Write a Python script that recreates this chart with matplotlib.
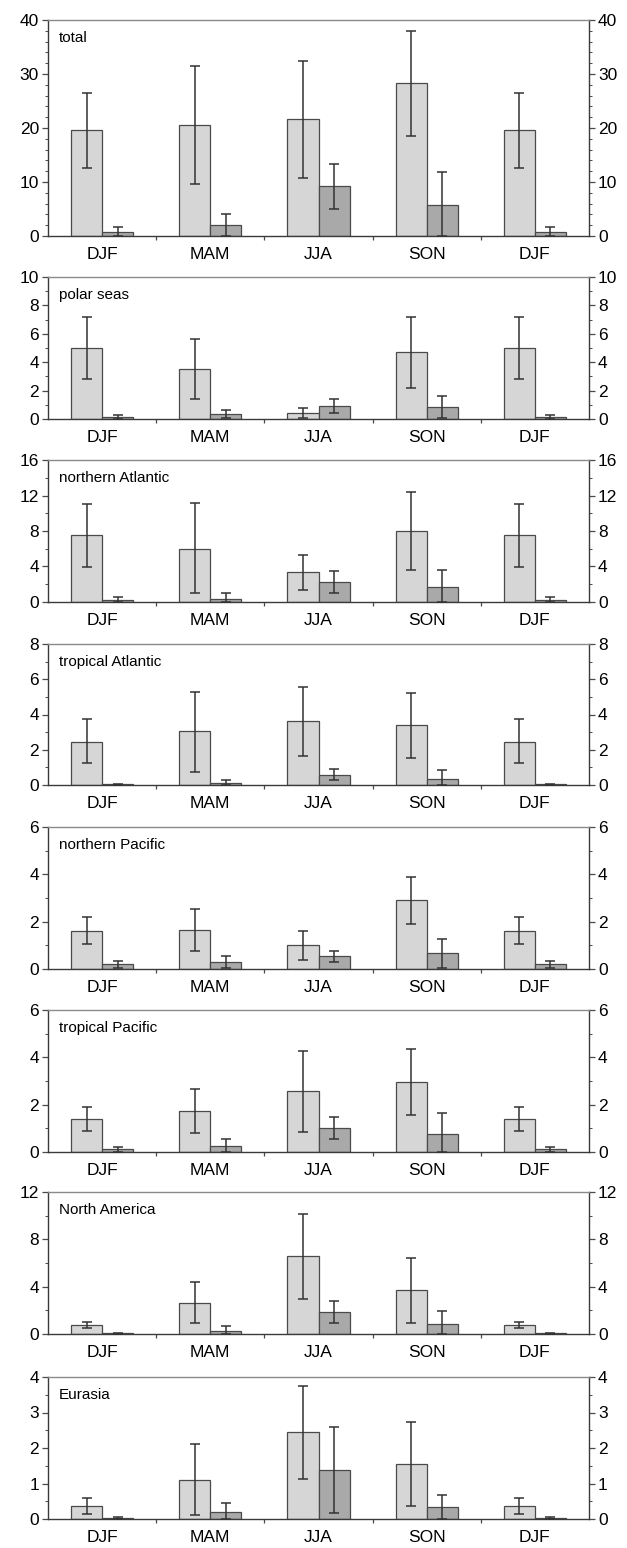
import matplotlib
matplotlib.use('Agg')
import matplotlib.pyplot as plt
from matplotlib.ticker import MultipleLocator, FixedLocator
import numpy as np

plt.rcParams['font.family'] = ['Liberation Sans', 'DejaVu Sans']

seasons = ['DJF', 'MAM', 'JJA', 'SON', 'DJF']

# light bars: mean, lower and upper end of the error bar; dark bars the same
total_l = [19.6, 20.6, 21.6, 28.3, 19.6]
total_l_lo = [12.6, 9.6, 10.7, 18.6, 12.6]
total_l_hi = [26.5, 31.5, 32.4, 37.9, 26.5]
total_d = [0.8, 2.0, 9.2, 5.7, 0.8]
total_d_lo = [0.0, 0.0, 5.0, 0.0, 0.0]
total_d_hi = [1.6, 4.0, 13.4, 11.8, 1.6]

polar_l = [5.0, 3.5, 0.45, 4.75, 5.0]
polar_l_lo = [2.8, 1.4, 0.1, 2.2, 2.8]
polar_l_hi = [7.2, 5.6, 0.75, 7.2, 7.2]
polar_d = [0.15, 0.35, 0.9, 0.85, 0.15]
polar_d_lo = [0.0, 0.05, 0.4, 0.1, 0.0]
polar_d_hi = [0.28, 0.65, 1.4, 1.6, 0.28]

natl_l = [7.5, 6.0, 3.35, 8.05, 7.5]
natl_l_lo = [3.9, 1.0, 1.4, 3.6, 3.9]
natl_l_hi = [11.0, 11.2, 5.3, 12.4, 11.0]
natl_d = [0.25, 0.38, 2.25, 1.7, 0.25]
natl_d_lo = [0.0, 0.0, 1.0, 0.0, 0.0]
natl_d_hi = [0.57, 1.0, 3.5, 3.6, 0.57]

tatl_l = [2.46, 3.05, 3.62, 3.41, 2.46]
tatl_l_lo = [1.22, 0.72, 1.62, 1.56, 1.22]
tatl_l_hi = [3.73, 5.28, 5.58, 5.2, 3.73]
tatl_d = [0.04, 0.13, 0.59, 0.32, 0.04]
tatl_d_lo = [0.0, 0.0, 0.29, 0.0, 0.0]
tatl_d_hi = [0.08, 0.28, 0.91, 0.86, 0.08]

npac_l = [1.59, 1.65, 1.01, 2.9, 1.59]
npac_l_lo = [1.04, 0.76, 0.37, 1.89, 1.04]
npac_l_hi = [2.2, 2.55, 1.62, 3.9, 2.2]
npac_d = [0.2, 0.3, 0.54, 0.68, 0.2]
npac_d_lo = [0.05, 0.05, 0.31, 0.05, 0.05]
npac_d_hi = [0.34, 0.54, 0.76, 1.26, 0.34]

tpac_l = [1.39, 1.74, 2.57, 2.94, 1.39]
tpac_l_lo = [0.88, 0.8, 0.83, 1.57, 0.88]
tpac_l_hi = [1.9, 2.67, 4.25, 4.34, 1.9]
tpac_d = [0.11, 0.25, 1.0, 0.76, 0.11]
tpac_d_lo = [0.02, 0.0, 0.55, 0.0, 0.02]
tpac_d_hi = [0.2, 0.55, 1.46, 1.63, 0.2]

nam_l = [0.73, 2.64, 6.55, 3.74, 0.73]
nam_l_lo = [0.48, 0.96, 2.98, 0.96, 0.48]
nam_l_hi = [1.01, 4.41, 10.1, 6.46, 1.01]
nam_d = [0.05, 0.28, 1.88, 0.87, 0.05]
nam_d_lo = [0.0, 0.0, 0.96, 0.0, 0.0]
nam_d_hi = [0.08, 0.65, 2.81, 1.94, 0.08]

eur_l = [0.36, 1.11, 2.44, 1.56, 0.36]
eur_l_lo = [0.14, 0.11, 1.14, 0.38, 0.14]
eur_l_hi = [0.58, 2.1, 3.76, 2.74, 0.58]
eur_d = [0.03, 0.2, 1.38, 0.33, 0.03]
eur_d_lo = [0.0, 0.0, 0.18, 0.0, 0.0]
eur_d_hi = [0.05, 0.45, 2.58, 0.69, 0.05]

panels = [
    ('total', 40, 10, 2, total_l, total_l_lo, total_l_hi, total_d, total_d_lo, total_d_hi),
    ('polar seas', 10, 2, 1, polar_l, polar_l_lo, polar_l_hi, polar_d, polar_d_lo, polar_d_hi),
    ('northern Atlantic', 16, 4, 2, natl_l, natl_l_lo, natl_l_hi, natl_d, natl_d_lo, natl_d_hi),
    ('tropical Atlantic', 8, 2, 1, tatl_l, tatl_l_lo, tatl_l_hi, tatl_d, tatl_d_lo, tatl_d_hi),
    ('northern Pacific', 6, 2, 1, npac_l, npac_l_lo, npac_l_hi, npac_d, npac_d_lo, npac_d_hi),
    ('tropical Pacific', 6, 2, 1, tpac_l, tpac_l_lo, tpac_l_hi, tpac_d, tpac_d_lo, tpac_d_hi),
    ('North America', 12, 4, 2, nam_l, nam_l_lo, nam_l_hi, nam_d, nam_d_lo, nam_d_hi),
    ('Eurasia', 4, 1, 0.5, eur_l, eur_l_lo, eur_l_hi, eur_d, eur_d_lo, eur_d_hi),
]

# panel extents in pixels (top, bottom of the plotting area)
W, H = 627, 1548
left_px, right_px = 48, 589
rows_px = [(20, 236), (277, 419), (460, 602), (644, 785), (827, 969),
           (1010, 1152), (1192, 1334), (1377, 1519)]

light_c = '#d6d6d6'
dark_c = '#a9a9a9'
edge_c = '#4a4a4a'
bw = 0.287

fig = plt.figure(figsize=(W / 100, H / 100), dpi=100)
x = np.arange(len(seasons))

for (name, ymax, major, minor, ml, ml_lo, ml_hi, md, md_lo, md_hi), (top, bot) in zip(panels, rows_px):
    ax = fig.add_axes([left_px / W, 1 - bot / H, (right_px - left_px) / W, (bot - top) / H])
    ml, ml_lo, ml_hi = np.array(ml), np.array(ml_lo), np.array(ml_hi)
    md, md_lo, md_hi = np.array(md), np.array(md_lo), np.array(md_hi)

    ax.bar(x - bw / 2, ml, bw, color=light_c, edgecolor=edge_c, linewidth=0.9, zorder=2)
    ax.bar(x + bw / 2, md, bw, color=dark_c, edgecolor=edge_c, linewidth=0.9, zorder=2)
    ax.errorbar(x - bw / 2, ml, yerr=[ml - ml_lo, ml_hi - ml], fmt='none',
                ecolor='#333333', elinewidth=1.1, capsize=3.3, capthick=1.1, zorder=3)
    ax.errorbar(x + bw / 2, md, yerr=[md - md_lo, md_hi - md], fmt='none',
                ecolor='#333333', elinewidth=1.1, capsize=3.3, capthick=1.1, zorder=3)

    ax.set_xlim(-0.5, len(seasons) - 0.5)
    ax.set_ylim(0, ymax)
    ax.yaxis.set_major_locator(MultipleLocator(major))
    ax.yaxis.set_minor_locator(MultipleLocator(minor))
    ax.xaxis.set_major_locator(FixedLocator(x[:-1] + 0.5))
    ax.xaxis.set_minor_locator(FixedLocator(x))
    ax.set_xticklabels([])
    ax.set_xticklabels(seasons, minor=True)

    ax.tick_params(axis='x', which='major', length=3, width=0.9, color=edge_c, direction='out')
    ax.tick_params(axis='x', which='minor', length=0, pad=8, labelsize=12.5)
    ax.tick_params(axis='y', which='major', left=True, right=True, labelleft=True, labelright=True,
                   length=4, width=0.9, color=edge_c, labelsize=12.5, pad=2.5)
    ax.tick_params(axis='y', which='minor', left=True, right=True, length=2, width=0.7, color=edge_c)

    for s in ['left', 'right', 'bottom']:
        ax.spines[s].set_color('#3a3a3a')
        ax.spines[s].set_linewidth(1.0)
    ax.spines['top'].set_color('#8a8a8a')
    ax.spines['top'].set_linewidth(1.0)

    ax.annotate(name, xy=(0, 1), xycoords='axes fraction', xytext=(8, -8),
                textcoords='offset points', ha='left', va='top', fontsize=11)

fig.savefig('out.png', dpi=100)
